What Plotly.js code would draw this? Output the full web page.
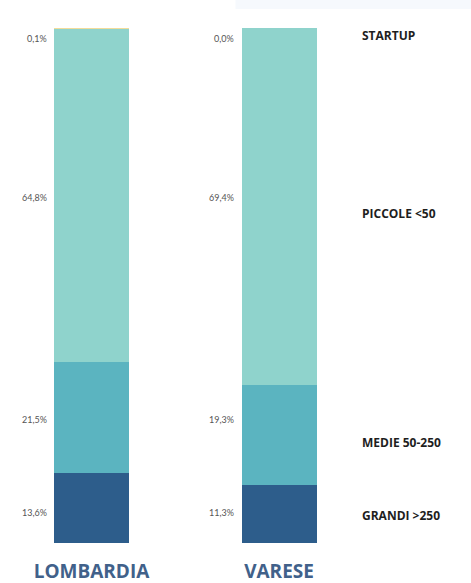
<!DOCTYPE html>
<html>
<head>
<meta charset="utf-8">
<script src="https://cdn.plot.ly/plotly-3.0.1.min.js"></script>
<style>
  html, body { margin: 0; padding: 0; background: #ffffff; }
  #chart { width: 471px; height: 583px; }
</style>
</head>
<body>
<div id="chart"></div>
<script>
// Territories (x categories)
const areas = ['LOMBARDIA', 'VARESE'];

// Company size classes, bottom to top of the stack
const classes = ['GRANDI >250', 'MEDIE 50-250', 'PICCOLE <50', 'STARTUP'];

// Share of companies per class (%), same order as `classes`
const grandi  = [13.6, 11.3];
const medie   = [21.5, 19.3];
const piccole = [64.8, 69.4];
const startup = [0.1, 0.0];

const seriesValues = [grandi, medie, piccole, startup];
const seriesColors = ['#2d5d8b', '#5bb4c0', '#8fd3cc', '#f2dc9a'];

const fmt = v => v.toFixed(1).replace('.', ',') + '%';

const traces = seriesValues.map((vals, i) => ({
  type: 'bar',
  name: classes[i],
  x: areas,
  y: vals,
  width: 0.4,
  marker: { color: seriesColors[i], line: { width: 0 } },
  hoverinfo: 'skip',
  showlegend: false
}));

// cumulative midpoints of each segment for one area
function stackMid(areaIdx) {
  let base = 0;
  return seriesValues.map(vals => {
    const v = vals[areaIdx];
    const mid = base + v / 2;
    base += v;
    return mid;
  });
}

const annotations = [];
const pctFont = { family: 'Lato, sans-serif', size: 9, color: '#555555' };

// percentage labels sit on shared rows, taken from the first area's stack
const rowMids = stackMid(0);
areas.forEach((area, a) => {
  seriesValues.forEach((vals, i) => {
    const isTop = i === seriesValues.length - 1;
    annotations.push({
      x: area, y: isTop ? 100 : rowMids[i],
      xref: 'x', yref: 'y',
      text: fmt(vals[a]),
      showarrow: false,
      xanchor: 'right', yanchor: 'middle',
      xshift: -43,
      yshift: isTop ? -10 : (i === 0 ? -5 : -2),
      font: pctFont
    });
  });
});

// class names to the right of the last bar
const lastMids = stackMid(areas.length - 1);
classes.forEach((name, i) => {
  const isTop = i === classes.length - 1;
  annotations.push({
    x: areas[areas.length - 1], y: isTop ? 100 : lastMids[i],
    xref: 'x', yref: 'y',
    text: name,
    showarrow: false,
    xanchor: 'left', yanchor: 'middle',
    xshift: 81,
    yshift: isTop ? -7 : (i === 0 ? -2 : -7),
    font: { family: '"Open Sans", sans-serif', size: 12, color: '#1e1e1e', weight: 700 }
  });
});

const layout = {
  width: 471,
  height: 583,
  margin: { l: 0, r: 0, t: 28, b: 40 },
  paper_bgcolor: '#ffffff',
  plot_bgcolor: '#ffffff',
  barmode: 'stack',
  bargap: 0,
  xaxis: {
    type: 'category',
    range: [-0.488, 2.024],
    showgrid: false, zeroline: false, showline: false,
    ticks: '',
    ticklabelstandoff: 15,
    tickfont: { family: '"Open Sans", sans-serif', size: 19, color: '#41618a', weight: 700 },
    fixedrange: true
  },
  yaxis: {
    range: [0, 100],
    visible: false,
    fixedrange: true
  },
  shapes: [{
    type: 'rect', xref: 'paper', yref: 'paper',
    x0: 0.5, x1: 1, y0: 1 + 19 / 515, y1: 1 + 28 / 515,
    fillcolor: '#f6f9fd', line: { width: 0 }, layer: 'below'
  }],
  annotations: annotations
};

Plotly.newPlot('chart', traces, layout, { displayModeBar: false, staticPlot: true });
</script>
</body>
</html>
